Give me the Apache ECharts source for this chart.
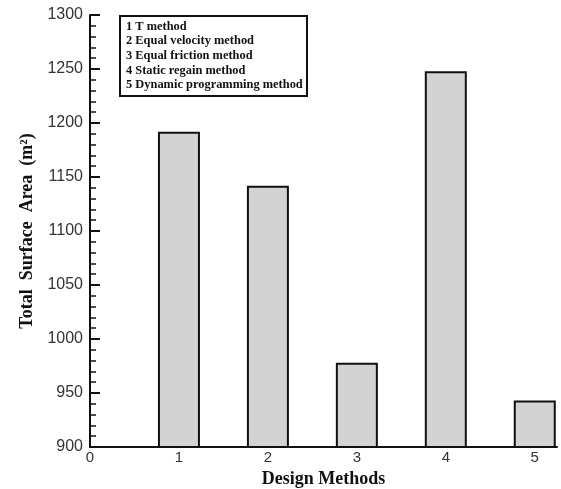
<!DOCTYPE html>
<html>
<head>
<meta charset="utf-8">
<script src="https://cdn.jsdelivr.net/npm/echarts@6/dist/echarts.min.js"></script>
<style>
  html, body { margin: 0; padding: 0; background: #fff; }
  #chart { width: 561px; height: 489px; }
</style>
</head>
<body>
<div id="chart"></div>
<script>
// design method index and total surface area (m2)
const methods = [1, 2, 3, 4, 5]
const areas = [1192, 1142, 978, 1248, 943]
const xTicks = [0, 1, 2, 3, 4, 5]
const legendLines = [
  '1 T method',
  '2 Equal velocity method',
  '3 Equal friction method',
  '4 Static regain method',
  '5 Dynamic programming method'
]

const serif = '"Liberation Serif", "Times New Roman", serif'
const sans = '"Liberation Sans", Arial, sans-serif'

const chart = echarts.init(document.getElementById('chart'))

const option = {
  backgroundColor: '#fff',
  animation: false,
  grid: { left: 90, right: 4, top: 15, bottom: 42, outerBoundsMode: 'none' },
  xAxis: {
    type: 'value',
    min: 0,
    max: 5.25,
    interval: 1,
    name: 'Design Methods',
    nameLocation: 'middle',
    nameGap: 20,
    nameTextStyle: { fontFamily: serif, fontWeight: 'bold', fontSize: 18, color: '#111' },
    axisLine: { show: true, lineStyle: { color: '#111', width: 2 } },
    axisTick: { show: true, inside: true, length: 11, lineStyle: { color: '#111', width: 2 }, customValues: xTicks },
    axisLabel: { fontFamily: sans, fontSize: 15, color: '#333', margin: 3, customValues: xTicks },
    splitLine: { show: false }
  },
  yAxis: {
    type: 'value',
    min: 900,
    max: 1300,
    interval: 50,
    name: 'Total  Surface  Area  (m²)',
    nameLocation: 'middle',
    nameRotate: 90,
    nameGap: 54,
    nameTextStyle: { fontFamily: serif, fontWeight: 'bold', fontSize: 18, color: '#111' },
    axisLine: { show: true, lineStyle: { color: '#111', width: 2 } },
    axisTick: { show: true, inside: true, length: 10, lineStyle: { color: '#111', width: 2 } },
    minorTick: { show: true, splitNumber: 5, length: 6, lineStyle: { color: '#111', width: 1.5 } },
    axisLabel: { fontFamily: sans, fontSize: 16, color: '#333', margin: 7, formatter: v => String(v) },
    splitLine: { show: false }
  },
  series: [
    {
      type: 'bar',
      data: methods.map((m, i) => [m, areas[i]]),
      barWidth: 42,
      itemStyle: { color: '#d3d3d3', borderColor: '#111', borderWidth: 2 }
    }
  ],
  graphic: [
    {
      type: 'group',
      left: 119,
      top: 15,
      children: [
        {
          type: 'rect',
          shape: { x: 0, y: 0, width: 187, height: 80 },
          style: { fill: '#fff', stroke: '#111', lineWidth: 2 }
        },
        {
          type: 'text',
          x: 6,
          y: 3,
          scaleX: 0.92,
          style: {
            text: legendLines.join('\n'),
            font: 'bold 13.5px ' + serif,
            lineHeight: 14.6,
            fill: '#111'
          }
        }
      ]
    }
  ]
}

chart.setOption(option)
</script>
</body>
</html>
